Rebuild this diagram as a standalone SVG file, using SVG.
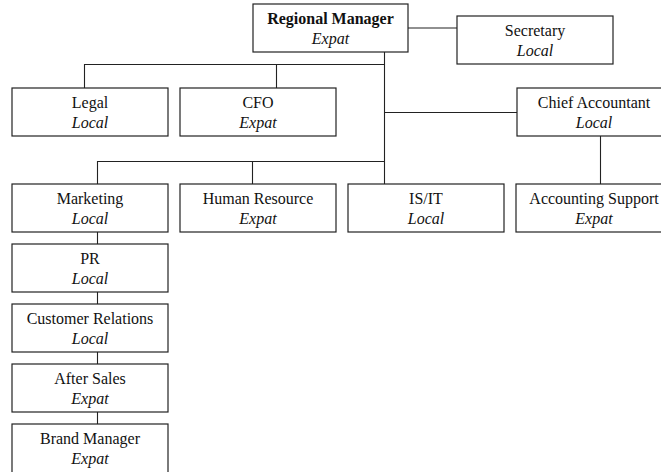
<svg xmlns="http://www.w3.org/2000/svg" width="661" height="472" viewBox="0 0 661 472">
<style>
.box{fill:#fff;stroke:#222;stroke-width:1.2}
.t{font-family:"Liberation Serif","Times New Roman",serif;font-size:16px;fill:#111;text-anchor:middle}
.b{font-weight:bold}
.i{font-style:italic}
.c{fill:none;stroke:#222;stroke-width:1.1}
</style>
<rect width="661" height="472" fill="#fff"/>
<g id="connectors">
<path class="c" d="M408 28H457"/>
<path class="c" d="M384.5 52V184"/>
<path class="c" d="M84.5 88V64.5H384.5M276.5 64.5V88"/>
<path class="c" d="M384.5 112.5H517"/>
<path class="c" d="M600.5 136V184"/>
<path class="c" d="M97.5 184V161.5H384.5M252.5 161.5V184"/>
<path class="c" d="M97.5 232V244M97.5 292V304M97.5 352V364M97.5 412V424"/>
</g>
<g id="regional-manager"><rect class="box" x="253" y="4" width="155" height="48"/><text class="t b" x="330.5" y="24">Regional Manager</text><text class="t i" x="330.5" y="44">Expat</text></g>
<g id="secretary"><rect class="box" x="457" y="16" width="156" height="48"/><text class="t" x="535" y="36">Secretary</text><text class="t i" x="535" y="56">Local</text></g>
<g id="legal"><rect class="box" x="12" y="88" width="156" height="48"/><text class="t" x="90" y="107.5">Legal</text><text class="t i" x="90" y="127.5">Local</text></g>
<g id="cfo"><rect class="box" x="180" y="88" width="156" height="48"/><text class="t" x="258" y="107.5">CFO</text><text class="t i" x="258" y="127.5">Expat</text></g>
<g id="chief-accountant"><rect class="box" x="517" y="88" width="156" height="48"/><text class="t" x="594" y="107.5">Chief Accountant</text><text class="t i" x="594" y="127.5">Local</text></g>
<g id="marketing"><rect class="box" x="12" y="184" width="156" height="48"/><text class="t" x="90" y="203.5">Marketing</text><text class="t i" x="90" y="223.5">Local</text></g>
<g id="human-resource"><rect class="box" x="180" y="184" width="156" height="48"/><text class="t" x="258" y="203.5">Human Resource</text><text class="t i" x="258" y="223.5">Expat</text></g>
<g id="is-it"><rect class="box" x="348" y="184" width="156" height="48"/><text class="t" x="426" y="203.5">IS/IT</text><text class="t i" x="426" y="223.5">Local</text></g>
<g id="accounting-support"><rect class="box" x="516" y="184" width="156" height="48"/><text class="t" x="594" y="203.5">Accounting Support</text><text class="t i" x="594" y="223.5">Expat</text></g>
<g id="pr"><rect class="box" x="12" y="244" width="156" height="48"/><text class="t" x="90" y="263.5">PR</text><text class="t i" x="90" y="283.5">Local</text></g>
<g id="customer-relations"><rect class="box" x="12" y="304" width="156" height="48"/><text class="t" x="90" y="323.5">Customer Relations</text><text class="t i" x="90" y="343.5">Local</text></g>
<g id="after-sales"><rect class="box" x="12" y="364" width="156" height="48"/><text class="t" x="90" y="383.5">After Sales</text><text class="t i" x="90" y="403.5">Expat</text></g>
<g id="brand-manager"><rect class="box" x="12" y="424" width="156" height="52"/><text class="t" x="90" y="443.5">Brand Manager</text><text class="t i" x="90" y="463.5">Expat</text></g>
</svg>
